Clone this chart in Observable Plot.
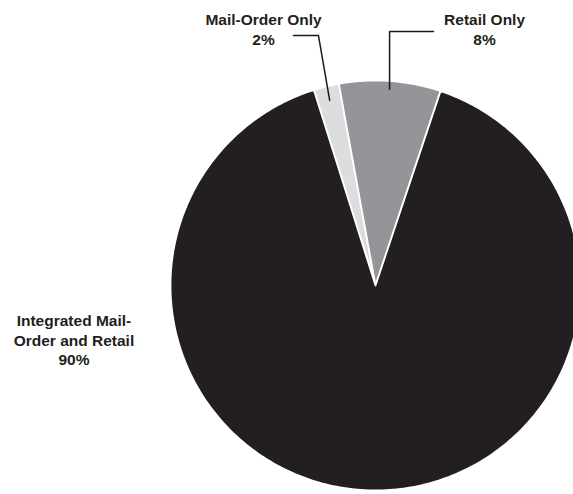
<!DOCTYPE html>
<html>
<head>
<meta charset="utf-8">
<script src="https://cdn.jsdelivr.net/npm/d3@7"></script>
<script src="https://cdn.jsdelivr.net/npm/@observablehq/plot@0.6"></script>
<style>
  html, body { margin: 0; padding: 0; background: #fff; }
  #chart { width: 573px; height: 494px; overflow: hidden; }
</style>
</head>
<body>
<div id="chart"></div>
<script>
// ---- data ----
const categories = ["Mail-Order Only", "Retail Only", "Integrated Mail-Order and Retail"];
const labels = ["Mail-Order Only\n2%", "Retail Only\n8%", "Integrated Mail-\nOrder and Retail\n90%"];
const shares = [2, 8, 90];
const colors = ["#dcdddf", "#939598", "#231f20"];

// ---- layout (not data) ----
const startDeg = -17.5;
const labelPos = [
  {x: -0.546, y: 1.252},
  {x: 0.532, y: 1.252},
  {x: -1.471, y: -0.263}
];
const leaders = [
  {r: 0.93, elbowDx: -0.055, lineY: 1.22, endX: -0.40},
  {r: 0.96, elbowDx: 0, lineY: 1.239, endX: 0.283},
  null
];

const pie = d3.pie().sort(null)
  .startAngle(startDeg * Math.PI / 180)
  .endAngle(startDeg * Math.PI / 180 + 2 * Math.PI);
const arcs = pie(shares);

// slice polygons in unit-circle data space (angle 0 = 12 o'clock, clockwise)
const slicePts = [];
arcs.forEach((a, i) => {
  const n = Math.max(2, Math.ceil((a.endAngle - a.startAngle) / (2 * Math.PI) * 360));
  slicePts.push({cat: categories[i], x: 0, y: 0});
  for (let k = 0; k <= n; k++) {
    const t = a.startAngle + (a.endAngle - a.startAngle) * k / n;
    slicePts.push({cat: categories[i], x: Math.sin(t), y: Math.cos(t)});
  }
});

// leader lines
const leaderPts = [];
arcs.forEach((a, i) => {
  const L = leaders[i];
  if (!L) return;
  const mid = (a.startAngle + a.endAngle) / 2;
  const ax = L.r * Math.sin(mid), ay = L.r * Math.cos(mid);
  leaderPts.push({cat: categories[i], x: ax, y: ay});
  leaderPts.push({cat: categories[i], x: ax + L.elbowDx, y: L.lineY});
  leaderPts.push({cat: categories[i], x: L.endX, y: L.lineY});
});

const labelData = categories.map((c, i) => ({cat: c, text: labels[i], x: labelPos[i].x, y: labelPos[i].y}));

const chart = Plot.plot({
  width: 573,
  height: 494,
  margin: 0,
  style: {background: "#fff", overflow: "visible"},
  x: {domain: [-1, 1], range: [170, 580], axis: null},
  y: {domain: [-1, 1], range: [490, 80], axis: null},
  color: {domain: categories, range: colors},
  marks: [
    Plot.line(slicePts, {x: "x", y: "y", z: "cat", fill: "cat", stroke: "white", strokeWidth: 1.8, curve: "linear-closed", strokeLinejoin: "round"}),
    Plot.line(leaderPts, {x: "x", y: "y", z: "cat", stroke: "#1a1a1a", strokeWidth: 1.5, strokeLinejoin: "miter"}),
    Plot.text(labelData, {x: "x", y: "y", text: "text", fontSize: 15.5, fontWeight: "bold", fontFamily: "Liberation Sans, Arial, Helvetica, sans-serif", fill: "#231f20", lineHeight: 1.26, textAnchor: "middle", lineAnchor: "middle"})
  ]
});
document.getElementById("chart").appendChild(chart);
</script>
</body>
</html>
